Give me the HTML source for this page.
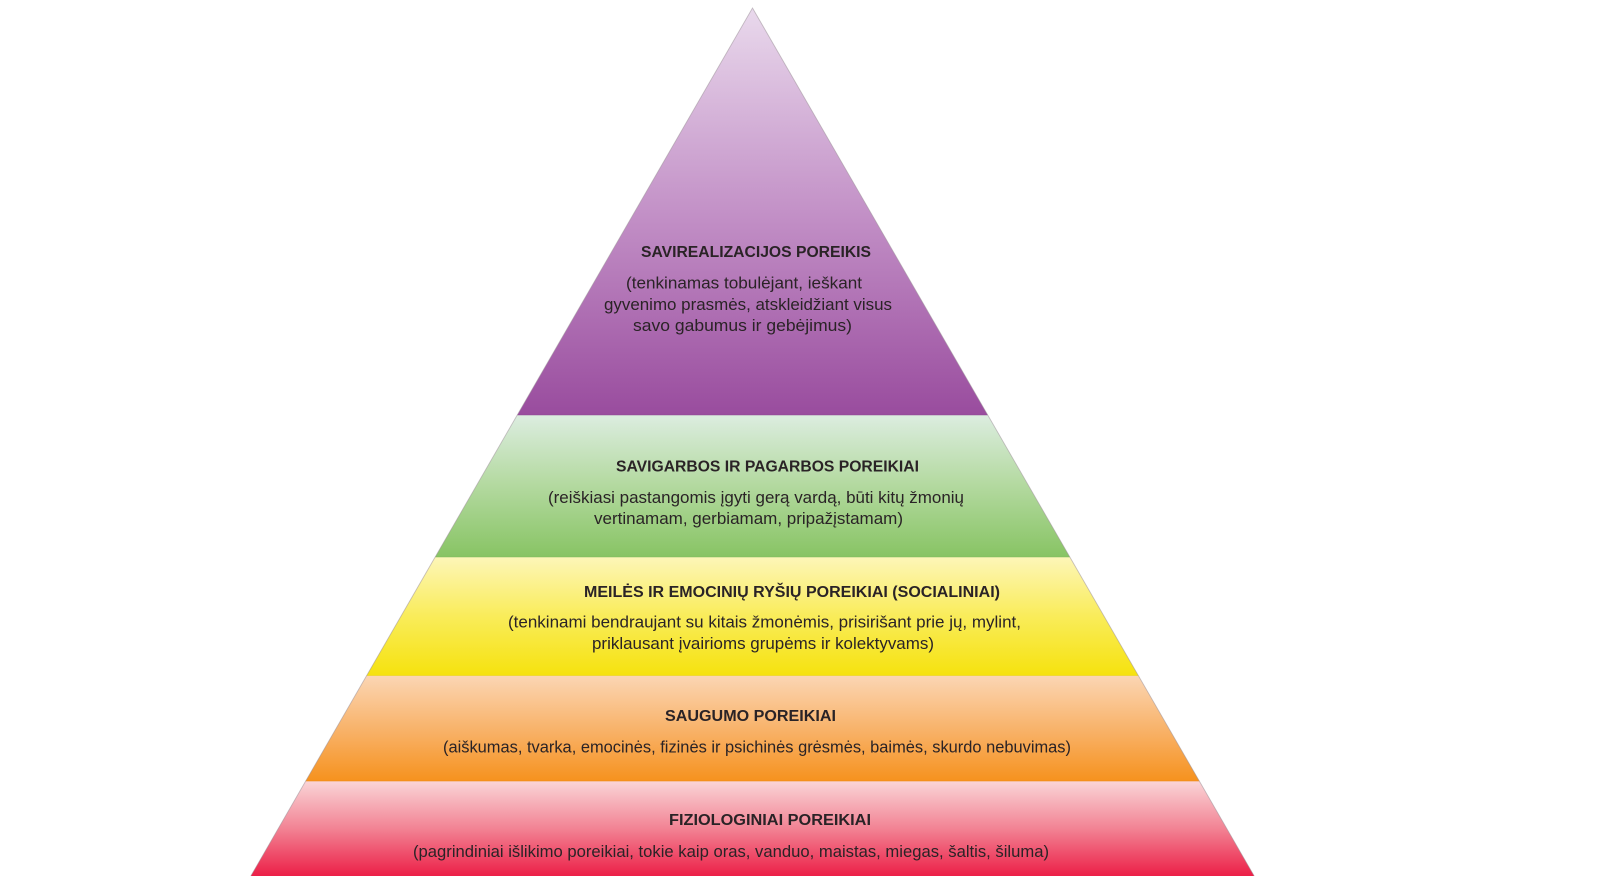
<!DOCTYPE html>
<html>
<head>
<meta charset="utf-8">
<style>
  html,body{margin:0;padding:0;background:#ffffff;}
  body{width:1600px;height:876px;overflow:hidden;}
  svg{display:block;}
  .t{font-family:"Liberation Sans",sans-serif;font-weight:bold;font-size:15.5px;fill:#2a2326;}
  .b{font-family:"Liberation Sans",sans-serif;font-size:16.5px;fill:#2a2326;}
</style>
</head>
<body>
<svg width="1600" height="876" viewBox="0 0 1600 876" xmlns="http://www.w3.org/2000/svg">
  <defs>
    <linearGradient id="gP" x1="0" y1="8" x2="0" y2="415" gradientUnits="userSpaceOnUse">
      <stop offset="0" stop-color="#e9d9ec"/>
      <stop offset="0.5" stop-color="#c391c7"/>
      <stop offset="1" stop-color="#994c9e"/>
    </linearGradient>
    <linearGradient id="gG" x1="0" y1="415" x2="0" y2="557" gradientUnits="userSpaceOnUse">
      <stop offset="0" stop-color="#dcede0"/>
      <stop offset="0.45" stop-color="#b7dba5"/>
      <stop offset="1" stop-color="#88c464"/>
    </linearGradient>
    <linearGradient id="gY" x1="0" y1="557" x2="0" y2="675.5" gradientUnits="userSpaceOnUse">
      <stop offset="0" stop-color="#fdf6b8"/>
      <stop offset="0.5" stop-color="#f9ec5a"/>
      <stop offset="1" stop-color="#f6e20e"/>
    </linearGradient>
    <linearGradient id="gO" x1="0" y1="675.5" x2="0" y2="781" gradientUnits="userSpaceOnUse">
      <stop offset="0" stop-color="#fbd6b4"/>
      <stop offset="0.55" stop-color="#f8b064"/>
      <stop offset="1" stop-color="#f6921e"/>
    </linearGradient>
    <linearGradient id="gR" x1="0" y1="781" x2="0" y2="876" gradientUnits="userSpaceOnUse">
      <stop offset="0" stop-color="#fad5d7"/>
      <stop offset="0.5" stop-color="#f28394"/>
      <stop offset="1" stop-color="#ec1f47"/>
    </linearGradient>
  </defs>

  <!-- bands -->
  <polygon points="752.5,8 987.7,415 517.3,415" fill="url(#gP)"/>
  <polygon points="517.3,415 987.7,415 1069.8,557 435.2,557" fill="url(#gG)"/>
  <polygon points="435.2,557 1069.8,557 1138.3,675.5 366.7,675.5" fill="url(#gY)"/>
  <polygon points="366.7,675.5 1138.3,675.5 1199.3,781 305.7,781" fill="url(#gO)"/>
  <polygon points="305.7,781 1199.3,781 1254.2,876 250.8,876" fill="url(#gR)"/>

  <!-- subtle band separators -->
  <line x1="517.3" y1="415" x2="987.7" y2="415" stroke="#8e4792" stroke-width="1" opacity="0.5"/>
  <line x1="435.2" y1="557" x2="1069.8" y2="557" stroke="#7fb95c" stroke-width="1" opacity="0.5"/>
  <line x1="366.7" y1="675.5" x2="1138.3" y2="675.5" stroke="#e9d50c" stroke-width="1" opacity="0.5"/>
  <line x1="305.7" y1="781" x2="1199.3" y2="781" stroke="#ef8a17" stroke-width="1" opacity="0.6"/>

  <!-- outline sides -->
  <polyline points="250.8,876 752.5,8 1254.2,876" fill="none" stroke="#9a8f98" stroke-width="0.9" opacity="0.55"/>

  <!-- Purple -->
  <text class="t" x="641" y="257" textLength="230" lengthAdjust="spacingAndGlyphs">SAVIREALIZACIJOS POREIKIS</text>
  <text class="b" x="626" y="288.5" textLength="236" lengthAdjust="spacingAndGlyphs">(tenkinamas tobulėjant, ieškant</text>
  <text class="b" x="604" y="310" textLength="288" lengthAdjust="spacingAndGlyphs">gyvenimo prasmės, atskleidžiant visus</text>
  <text class="b" x="633" y="331" textLength="219" lengthAdjust="spacingAndGlyphs">savo gabumus ir gebėjimus)</text>

  <!-- Green -->
  <text class="t" x="616" y="471.5" textLength="303" lengthAdjust="spacingAndGlyphs">SAVIGARBOS IR PAGARBOS POREIKIAI</text>
  <text class="b" x="548" y="503" textLength="416" lengthAdjust="spacingAndGlyphs">(reiškiasi pastangomis įgyti gerą vardą, būti kitų žmonių</text>
  <text class="b" x="594" y="524" textLength="309" lengthAdjust="spacingAndGlyphs">vertinamam, gerbiamam, pripažįstamam)</text>

  <!-- Yellow -->
  <text class="t" x="584" y="597" textLength="416" lengthAdjust="spacingAndGlyphs">MEILĖS IR EMOCINIŲ RYŠIŲ POREIKIAI (SOCIALINIAI)</text>
  <text class="b" x="508" y="627.5" textLength="513" lengthAdjust="spacingAndGlyphs">(tenkinami bendraujant su kitais žmonėmis, prisirišant prie jų, mylint,</text>
  <text class="b" x="592" y="649" textLength="342" lengthAdjust="spacingAndGlyphs">priklausant įvairioms grupėms ir kolektyvams)</text>

  <!-- Orange -->
  <text class="t" x="665" y="721" textLength="171" lengthAdjust="spacingAndGlyphs">SAUGUMO POREIKIAI</text>
  <text class="b" x="443" y="752.5" textLength="628" lengthAdjust="spacingAndGlyphs">(aiškumas, tvarka, emocinės, fizinės ir psichinės grėsmės, baimės, skurdo nebuvimas)</text>

  <!-- Red -->
  <text class="t" x="669" y="825" textLength="202" lengthAdjust="spacingAndGlyphs">FIZIOLOGINIAI POREIKIAI</text>
  <text class="b" x="413" y="857" textLength="636" lengthAdjust="spacingAndGlyphs">(pagrindiniai išlikimo poreikiai, tokie kaip oras, vanduo, maistas, miegas, šaltis, šiluma)</text>
</svg>
</body>
</html>
